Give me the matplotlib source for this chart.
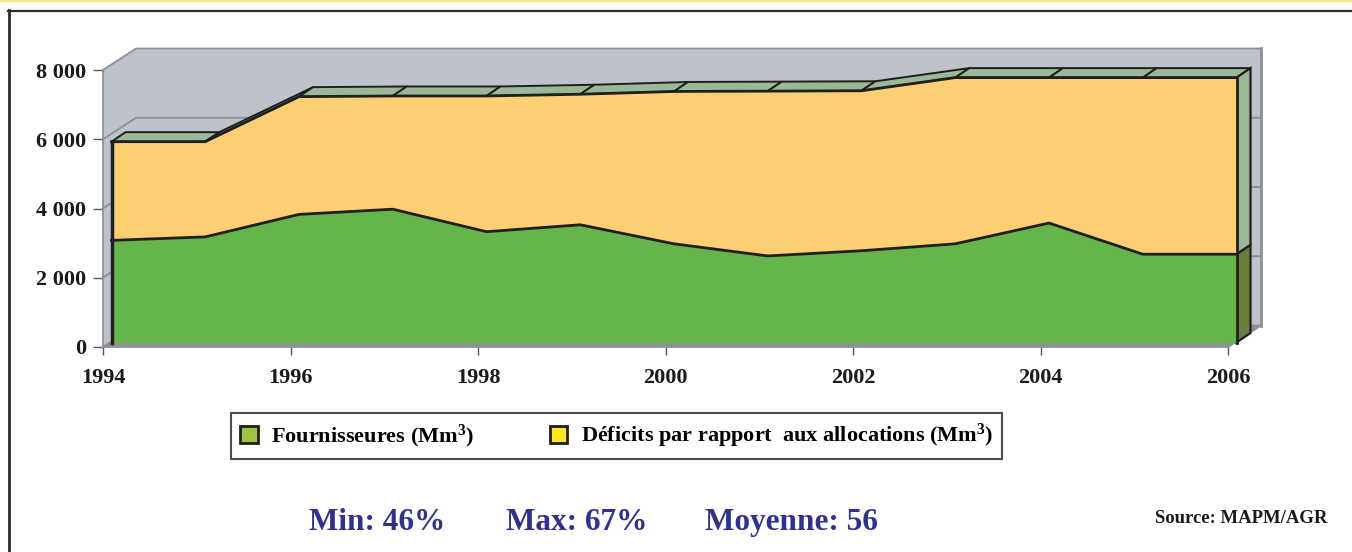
import matplotlib.pyplot as plt
import numpy as np
from matplotlib.lines import Line2D
from matplotlib.patches import Patch, Polygon

plt.rcParams['font.family'] = ['Liberation Serif', 'DejaVu Serif']
plt.rcParams['font.weight'] = 'bold'
plt.rcParams['mathtext.fontset'] = 'custom'
plt.rcParams['mathtext.default'] = 'bf'
plt.rcParams['mathtext.bf'] = 'Liberation Serif:bold'
plt.rcParams['mathtext.rm'] = 'Liberation Serif:bold'

# volumes en Mm3
annees = [1994, 1995, 1996, 1997, 1998, 1999, 2000, 2001, 2002, 2003, 2004, 2005, 2006]
fournisseurs = [2950, 3050, 3700, 3850, 3200, 3400, 2850, 2500, 2650, 2850, 3450, 2550, 2550]
deficits = [2850, 2750, 3400, 3270, 3920, 3770, 4400, 4760, 4620, 4800, 4200, 5100, 5100]

y_ticks = [0, 2000, 4000, 6000, 8000]
y_labels = ['0', '2 000', '4 000', '6 000', '8 000']
x_ticks = [1994, 1996, 1998, 2000, 2002, 2004, 2006]
legende = ['Fournisseures (Mm$^3$)', 'Déficits par rapport  aux allocations (Mm$^3$)']
stats = ['Min: 46%', 'Max: 67%', 'Moyenne: 56']
source = 'Source: MAPM/AGR'

VERT = '#65B54B'
JAUNE = '#FDCF73'
DESSUS = '#9BB897'
COTE_VERT = '#687E3B'
TRAIT = '#1F1F1F'
MUR = '#BEC2CA'
MUR_BORD = '#8B9199'
SOL = '#8E9297'

W, H = 1352, 552
fig = plt.figure(figsize=(W / 100, H / 100), dpi=100)
fig.patch.set_facecolor('white')

# zone du graphique (plan avant des axes)
left, right, top, bottom = 103, 1228, 70, 347
ax = fig.add_axes([left / W, 1 - bottom / H, (right - left) / W, (bottom - top) / H])
x0, x1 = annees[0], annees[-1]
ymax = y_ticks[-1]
ax.set_xlim(x0, x1)
ax.set_ylim(0, ymax)
ax.patch.set_visible(False)

# conversion pixels -> unites de donnees pour l'effet de profondeur
ux = (x1 - x0) / (right - left)
uy = ymax / (bottom - top)
dx, dy = 33 * ux, 21.5 * uy          # profondeur totale des murs
fx, fy = 8.5 * ux, 4.5 * uy          # face avant de la serie
bx, by = 22.5 * ux, 14 * uy          # face arriere de la serie


def poly(xs, ys, **kw):
    ax.add_patch(Polygon(np.column_stack([xs, ys]), closed=True, clip_on=False, **kw))


# murs et sol
poly([x0 + dx, x1 + dx, x1 + dx, x0 + dx], [dy, dy, ymax + dy, ymax + dy], fc=MUR, ec='none', zorder=1)
poly([x0, x0, x0 + dx, x0 + dx], [0, ymax, ymax + dy, dy], fc=MUR, ec='none', zorder=1)
poly([x0, x1, x1 + dx, x0 + dx], [0, 0, dy, dy], fc=SOL, ec='none', zorder=1.2)
for v in y_ticks:
    ax.plot([x0, x0 + dx, x1 + dx], [v, v + dy, v + dy], color=MUR_BORD, lw=1.3,
            clip_on=False, zorder=1.5)
ax.plot([x1 + dx, x1 + dx], [dy, ymax + dy], color=MUR_BORD, lw=2, clip_on=False, zorder=1.5)
ax.plot([x1, x1 + dx], [0, dy], color=MUR_BORD, lw=1.3, clip_on=False, zorder=1.5)

x = np.array(annees, dtype=float)
g = np.array(fournisseurs, dtype=float)
t = g + np.array(deficits, dtype=float)

# dessus de la serie empilee
for i in range(len(x) - 1):
    poly([x[i] + fx, x[i + 1] + fx, x[i + 1] + bx, x[i] + bx],
         [t[i] + fy, t[i + 1] + fy, t[i + 1] + by, t[i] + by],
         fc=DESSUS, ec=TRAIT, lw=1.4, joinstyle='round', zorder=3)

# cotes droits
poly([x1 + fx, x1 + bx, x1 + bx, x1 + fx], [fy, by, g[-1] + by, g[-1] + fy],
     fc=COTE_VERT, ec=TRAIT, lw=1.6, zorder=3)
poly([x1 + fx, x1 + bx, x1 + bx, x1 + fx], [g[-1] + fy, g[-1] + by, t[-1] + by, t[-1] + fy],
     fc=DESSUS, ec=TRAIT, lw=1.6, zorder=3)

# faces avant
ax.fill_between(x + fx, fy, g + fy, color=VERT, lw=0, zorder=4, clip_on=False)
ax.fill_between(x + fx, g + fy, t + fy, color=JAUNE, lw=0, zorder=4, clip_on=False)
ax.plot(x + fx, g + fy, color=TRAIT, lw=2, zorder=5, clip_on=False, solid_joinstyle='round')
ax.plot(x + fx, t + fy, color=TRAIT, lw=2, zorder=5, clip_on=False, solid_joinstyle='round')
ax.plot([x0 + fx, x0 + fx], [fy, t[0] + fy], color=TRAIT, lw=2.5, zorder=5, clip_on=False)
ax.plot([x1 + fx, x1 + fx], [fy, t[-1] + fy], color=TRAIT, lw=2, zorder=5, clip_on=False)

# axes
for s in ['top', 'right']:
    ax.spines[s].set_visible(False)
for s in ['left', 'bottom']:
    ax.spines[s].set_color(MUR_BORD)
    ax.spines[s].set_linewidth(1.3)
ax.set_yticks(y_ticks, y_labels)
ax.set_xticks(x_ticks, [str(a) for a in x_ticks])
ax.tick_params(axis='y', length=7, width=1, color='#555555', pad=5, labelsize=16)
ax.tick_params(axis='x', length=6, width=1, color='#555555', pad=9, labelsize=16)
for lab in ax.get_xticklabels() + ax.get_yticklabels():
    lab.set_fontweight('bold')
    lab.set_color('#1A1A1A')

# legende
poignees = [Patch(fc='#9DC63F', ec=TRAIT, lw=2), Patch(fc='#FFE61E', ec=TRAIT, lw=2)]
leg = fig.legend(poignees, legende, loc='center', bbox_to_anchor=(616.5 / W, 1 - 436 / H),
                 ncol=2, frameon=True, fancybox=False, edgecolor=TRAIT,
                 prop=dict(size=16, weight='bold'), handlelength=0.8, handleheight=0.8,
                 handletextpad=0.6, columnspacing=3.4, borderpad=0.4)
leg.get_frame().set_linewidth(1.5)

# indicateurs
for txt, cx in zip(stats, [377.5, 577, 791.5]):
    fig.text(cx / W, 1 - 530 / H, txt, ha='center', va='baseline', fontsize=22.5,
             fontweight='bold', color='#2E3192')
fig.text(1155 / W, 1 - 523 / H, source, ha='left', va='baseline', fontsize=13.5,
         fontweight='bold', color='#1A1A1A')

# cadre
fig.add_artist(Line2D([0, 1], [1 - 0.8 / H] * 2, transform=fig.transFigure, color='#FCE486', lw=1.6))
fig.add_artist(Line2D([8 / W, 1], [1 - 10.5 / H] * 2, transform=fig.transFigure, color='#2B2B2B', lw=1.6))
fig.add_artist(Line2D([8.5 / W] * 2, [0, 1 - 10 / H], transform=fig.transFigure, color='#2B2B2B', lw=2))

fig.savefig('out.png', dpi=100)
